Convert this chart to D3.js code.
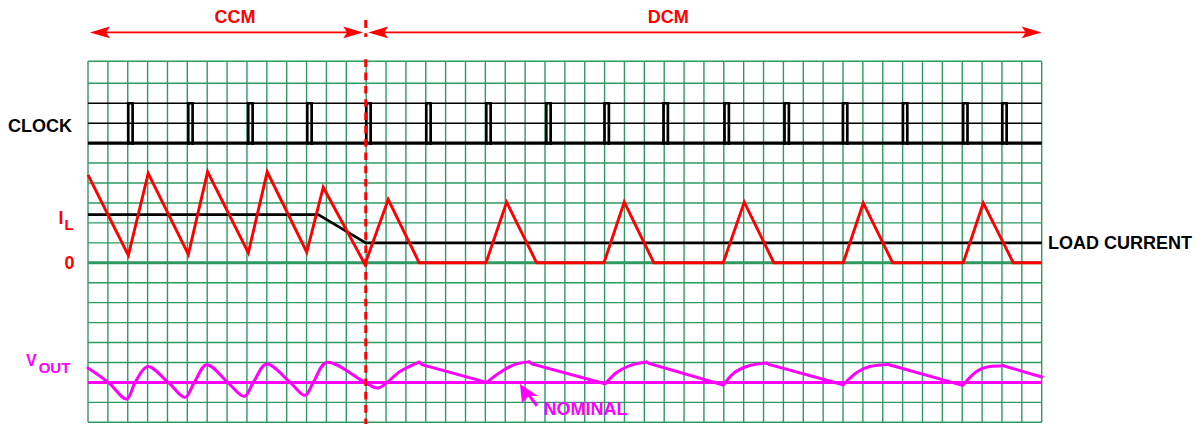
<!DOCTYPE html>
<html>
<head>
<meta charset="utf-8">
<script src="https://cdn.jsdelivr.net/npm/d3@7"></script>
<style>
  html, body { margin: 0; padding: 0; background: #fff; }
  svg { display: block; }
  text { font-family: "Liberation Sans", Arial, sans-serif; font-weight: bold; }
</style>
</head>
<body>
<svg id="chart" width="1202" height="424"></svg>
<script>
// ---- data (time in grid divisions, levels in grid divisions) ----
const gridCols = 48;
const gridRows = 18;

// clock pulse start times
const clockPulses = [1.96, 4.98, 8.0, 10.97, 13.94, 16.96, 19.98, 23.0, 25.93,
                     28.9, 31.97, 34.99, 37.93, 40.95, 43.98, 45.95];

// inductor current [time, level above zero]
const inductorCurrent = [
  [0, 4.41], [2.03, 0.37], [3.03, 4.48], [5.05, 0.42], [6.02, 4.56],
  [8.07, 0.5], [9.02, 4.56], [11.01, 0.53], [11.84, 3.79], [13.94, -0.08],
  [15.11, 3.17], [16.67, 0], [20.03, 0], [21.07, 3.04], [22.58, 0],
  [25.97, 0], [26.99, 3.04], [28.48, 0], [31.97, 0], [33.03, 3.04],
  [34.52, 0], [38.01, 0], [39.02, 3.0], [40.5, 0], [44.05, 0],
  [45.06, 3.0], [46.57, 0], [48, 0]
];

// load current [time, level]
const loadCurrent = [[0, 2.41], [11.59, 2.41], [13.98, 1.0], [48, 1.0]];

// output voltage ripple around nominal, continuous-conduction part
const voutCcm = [
  [0, 0.72], [1.02, 0], [1.95, -0.83], [2.37, 0], [3.0, 0.8], [4.04, 0],
  [4.88, -0.75], [5.35, 0], [5.97, 0.89], [7.03, 0], [7.87, -0.7],
  [8.32, 0], [8.99, 0.92], [10.17, 0], [10.92, -0.65], [11.34, 0],
  [12.01, 1.0], [13.94, 0], [14.61, -0.28], [15.7, 0.55], [16.67, 1.02]
];

// discontinuous part: charging arcs and linear discharge segments
const voutRises = [
  [[20.06, 0], [20.73, 0.5], [21.4, 0.87], [22.21, 1.03]],
  [[26.02, -0.07], [26.61, 0.5], [27.28, 0.84], [28.12, 1.02]],
  [[31.97, -0.13], [32.47, 0.44], [33.15, 0.8], [34.16, 0.97]],
  [[38.01, -0.12], [38.69, 0.5], [39.35, 0.8], [40.28, 0.9]],
  [[44.02, -0.15], [44.72, 0.55], [45.39, 0.8], [46.06, 0.84]]
];
const voutFalls = [
  [[16.67, 1.02], [16.81, 0.89], [20.06, 0]],
  [[22.21, 1.03], [22.34, 0.93], [26.02, -0.07]],
  [[28.12, 1.02], [28.23, 0.95], [31.97, -0.13]],
  [[34.16, 0.97], [34.27, 0.9], [38.01, -0.12]],
  [[40.28, 0.9], [40.41, 0.86], [44.02, -0.15]],
  [[46.06, 0.84], [46.2, 0.8], [48, 0.27]]
];

// operating-mode spans along the top
const modeSpans = [
  { label: "CCM", start: 0.1, end: 13.85, labelAt: 7.4 },
  { label: "DCM", start: 14.1, end: 48, labelAt: 29.2 }
];
const modeBoundary = 13.98;

// ---- layout ----
const COLORS = {
  grid: "#2e9a62", red: "#ff0000", black: "#000000", magenta: "#ff00ff"
};
const svg = d3.select("#chart");

const x = d3.scaleLinear().domain([0, gridCols]).range([88, 1041.7]);
// grid rows (top border row is a touch taller)
const row = d3.scaleLinear().domain([0, 1, gridRows]).range([61.3, 83.3, 422.3]);

const clockBaseRow = 4, clockHighRow = 2;
const currentZeroRow = 10;
const nominalRow = 16;

const yClock = v => row(clockBaseRow - v);
const yI = d3.scaleLinear().domain([0, 1]).range([row(currentZeroRow), row(currentZeroRow - 1)]);
const yV = d3.scaleLinear().domain([0, 1]).range([row(nominalRow), row(nominalRow - 1)]);

// ---- grid ----
const grid = svg.append("g");
grid.selectAll("line.v").data(d3.range(0, gridCols + 1)).join("line")
  .attr("x1", d => x(d)).attr("x2", d => x(d))
  .attr("y1", row(0)).attr("y2", row(gridRows))
  .attr("stroke", COLORS.grid).attr("stroke-width", 1.4);

const specialRows = [clockHighRow, clockHighRow + 1, clockBaseRow, currentZeroRow, nominalRow];
grid.selectAll("line.h").data(d3.range(0, gridRows + 1).filter(r => !specialRows.includes(r))).join("line")
  .attr("x1", x(0)).attr("x2", x(gridCols))
  .attr("y1", d => row(d)).attr("y2", d => row(d))
  .attr("stroke", COLORS.grid).attr("stroke-width", 1.4);

// clock reference levels
svg.selectAll("line.clk").data([clockHighRow, clockHighRow + 1]).join("line")
  .attr("x1", x(0)).attr("x2", x(gridCols))
  .attr("y1", d => row(d)).attr("y2", d => row(d))
  .attr("stroke", COLORS.black).attr("stroke-width", 1.4);

// zero-current line
svg.append("line")
  .attr("x1", x(0)).attr("x2", x(gridCols))
  .attr("y1", row(currentZeroRow)).attr("y2", row(currentZeroRow))
  .attr("stroke", COLORS.grid).attr("stroke-width", 3.2);

// ---- clock ----
svg.append("line")
  .attr("x1", x(0)).attr("x2", x(gridCols))
  .attr("y1", yClock(0)).attr("y2", yClock(0))
  .attr("stroke", COLORS.black).attr("stroke-width", 3.4);

const pulseWidth = 0.22;
svg.append("g").selectAll("path").data(clockPulses).join("path")
  .attr("d", t => {
    const x0 = x(t) + 1.3, x1 = x(t + pulseWidth) + 1.3;
    const p = d3.path();
    p.moveTo(x0, yClock(0) + 1.8);
    p.lineTo(x0, yClock(clockBaseRow - clockHighRow));
    p.lineTo(x1, yClock(clockBaseRow - clockHighRow));
    p.lineTo(x1, yClock(0) + 1.8);
    return p.toString();
  })
  .attr("fill", "none").attr("stroke", COLORS.black).attr("stroke-width", 2.7);

// ---- currents ----
const lineI = d3.line().x(d => x(d[0])).y(d => yI(d[1]));
svg.append("path").datum(loadCurrent).attr("d", lineI)
  .attr("fill", "none").attr("stroke", COLORS.black).attr("stroke-width", 2.7);
svg.append("path").datum(inductorCurrent).attr("d", lineI)
  .attr("fill", "none").attr("stroke", COLORS.red).attr("stroke-width", 2.9)
  .attr("stroke-linejoin", "miter");

// ---- output voltage ----
svg.append("line")
  .attr("x1", x(0)).attr("x2", x(gridCols))
  .attr("y1", yV(0)).attr("y2", yV(0))
  .attr("stroke", COLORS.magenta).attr("stroke-width", 3);

const wavyV = d3.line().x(d => x(d[0])).y(d => yV(d[1])).curve(d3.curveCatmullRom.alpha(0.5));
const smoothV = d3.line().x(d => x(d[0])).y(d => yV(d[1])).curve(d3.curveMonotoneX);
const straightV = d3.line().x(d => x(d[0])).y(d => yV(d[1]));
const vg = svg.append("g").attr("fill", "none").attr("stroke", COLORS.magenta)
  .attr("stroke-width", 3).attr("stroke-linecap", "round");
vg.append("path").datum(voutCcm).attr("d", wavyV);
vg.selectAll("path.rise").data(voutRises).join("path").attr("class", "rise").attr("d", smoothV);
vg.selectAll("path.fall").data(voutFalls).join("path").attr("class", "fall").attr("d", straightV);

// ---- mode arrows ----
const arrowY = 32.4;
function arrowHead(tipX, dir) {
  const p = d3.path();
  p.moveTo(tipX, arrowY);
  p.lineTo(tipX - dir * 20, arrowY - 5.8);
  p.lineTo(tipX - dir * 16, arrowY);
  p.lineTo(tipX - dir * 20, arrowY + 5.8);
  p.closePath();
  return p.toString();
}
const modes = svg.append("g");
modeSpans.forEach(m => {
  modes.append("line")
    .attr("x1", x(m.start) + 8).attr("x2", x(m.end) - 8)
    .attr("y1", arrowY).attr("y2", arrowY)
    .attr("stroke", COLORS.red).attr("stroke-width", 1.6);
  modes.append("path").attr("d", arrowHead(x(m.start), -1)).attr("fill", COLORS.red);
  modes.append("path").attr("d", arrowHead(x(m.end), 1)).attr("fill", COLORS.red);
  modes.append("text").attr("x", x(m.labelAt)).attr("y", 23.4)
    .attr("text-anchor", "middle").attr("font-size", 18)
    .attr("fill", COLORS.red).text(m.label);
});

// mode boundary marker
const bx = x(modeBoundary);
svg.append("line").attr("x1", bx).attr("x2", bx).attr("y1", 20).attr("y2", 37)
  .attr("stroke", COLORS.red).attr("stroke-width", 3).attr("stroke-dasharray", "8 5.3");
svg.append("line").attr("x1", bx).attr("x2", bx).attr("y1", 59.3).attr("y2", 424)
  .attr("stroke", COLORS.red).attr("stroke-width", 3).attr("stroke-dasharray", "7.6 5.7");

// ---- labels ----
svg.append("text").attr("x", 8).attr("y", 132.3).attr("font-size", 18)
  .attr("fill", COLORS.black).text("CLOCK");

const il = svg.append("text").attr("x", 58.5).attr("y", 224.2).attr("fill", COLORS.red).attr("font-size", 18);
il.append("tspan").text("I");
il.append("tspan").attr("font-size", 15).attr("dx", 1).attr("dy", 5.3).text("L");

svg.append("text").attr("x", 74.5).attr("y", 269.3).attr("text-anchor", "end")
  .attr("font-size", 18).attr("fill", COLORS.red).text("0");

const vo = svg.append("text").attr("x", 26).attr("y", 366.2).attr("fill", COLORS.magenta).attr("font-size", 16);
vo.append("tspan").text("V");
vo.append("tspan").attr("font-size", 15).attr("dx", 2).attr("dy", 6.5).text("OUT");

svg.append("text").attr("x", 1048).attr("y", 248.6).attr("font-size", 18)
  .attr("fill", COLORS.black).text("LOAD CURRENT");

// nominal pointer
const tipX = x(21.74), tipY = yV(0) + 1.5;
svg.append("line").attr("x1", tipX + 8).attr("y1", tipY + 10).attr("x2", tipX + 17).attr("y2", tipY + 22)
  .attr("stroke", COLORS.magenta).attr("stroke-width", 2.8);
svg.append("path")
  .attr("d", `M${tipX},${tipY} L${tipX + 2},${tipY + 19} L${tipX + 9},${tipY + 12} L${tipX + 18},${tipY + 12} Z`)
  .attr("fill", COLORS.magenta);
svg.append("text").attr("x", 543.5).attr("y", 414.6).attr("font-size", 18)
  .attr("fill", COLORS.magenta).text("NOMINAL");
</script>
</body>
</html>
